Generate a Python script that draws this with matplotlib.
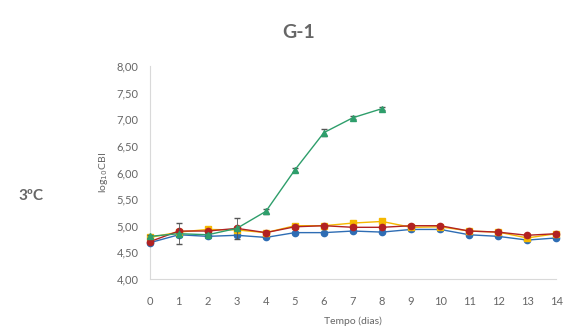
import matplotlib.pyplot as plt

dias = list(range(15))
dias_verde = list(range(9))

azul = [4.68, 4.83, 4.80, 4.82, 4.78, 4.87, 4.87, 4.90, 4.88, 4.93, 4.93, 4.83, 4.80, 4.73, 4.77]
vermelho = [4.70, 4.90, 4.90, 4.95, 4.87, 4.98, 5.00, 4.97, 4.97, 5.00, 5.00, 4.90, 4.88, 4.82, 4.85]
amarelo = [4.78, 4.88, 4.93, 4.92, 4.87, 5.00, 5.00, 5.05, 5.08, 4.97, 4.98, 4.90, 4.88, 4.77, 4.85]
verde = [4.80, 4.85, 4.83, 4.95, 5.27, 6.05, 6.75, 7.03, 7.20]
verde_err = [0.03, 0.20, 0.03, 0.20, 0.05, 0.04, 0.06, 0.03, 0.03]

yticks = [4.0, 4.5, 5.0, 5.5, 6.0, 6.5, 7.0, 7.5, 8.0]
ytick_labels = ['4,00', '4,50', '5,00', '5,50', '6,00', '6,50', '7,00', '7,50', '8,00']

plt.rcParams['font.family'] = ['Lato', 'DejaVu Sans']

fig = plt.figure(figsize=(5.63, 3.27), dpi=100)
ax = fig.add_axes([0.266, 0.147, 0.722, 0.651])

ax.errorbar(dias, azul, yerr=0.02, color='#2E6DB4', marker='o', markersize=4.5,
            linewidth=1, capsize=2, elinewidth=0.6, clip_on=False, zorder=3)
ax.errorbar(dias, amarelo, yerr=0.03, color='#F5B800', marker='s', markersize=4.5,
            linewidth=1, capsize=2, elinewidth=0.6, clip_on=False, zorder=3)
ax.errorbar(dias, vermelho, yerr=0.02, color='#B22222', marker='o', markersize=4.5,
            linewidth=1, capsize=2, elinewidth=0.6, clip_on=False, zorder=4)
ax.errorbar(dias_verde, verde, yerr=verde_err, color='#2E9E6B', marker='^', markersize=4.5,
            linewidth=1, capsize=2, elinewidth=0.6, ecolor='#555555', clip_on=False, zorder=5)

ax.set_xlim(0, 14)
ax.set_ylim(4, 8)
ax.set_xticks(dias)
ax.set_yticks(yticks)
ax.set_yticklabels(ytick_labels)
ax.tick_params(axis='y', length=0, labelsize=8, colors='#666666', pad=8)
ax.tick_params(axis='x', length=0, labelsize=8, colors='#666666', pad=12)
for s in ['top', 'right']:
    ax.spines[s].set_visible(False)
for s in ['left', 'bottom']:
    ax.spines[s].set_color('#D9D9D9')

ax.set_xlabel('Tempo (dias)', fontsize=7.5, color='#666666', labelpad=7)
ax.set_ylabel('log$_{10}$CBI', fontsize=7.5, color='#666666', labelpad=5)

fig.text(0.53, 0.90, 'G-1', fontsize=14, fontweight='bold', color='#666666', ha='center', va='center')
fig.text(0.055, 0.40, '3ºC', fontsize=11, fontweight='bold', color='#666666', ha='center', va='center')

fig.savefig('out.png', dpi=100)
